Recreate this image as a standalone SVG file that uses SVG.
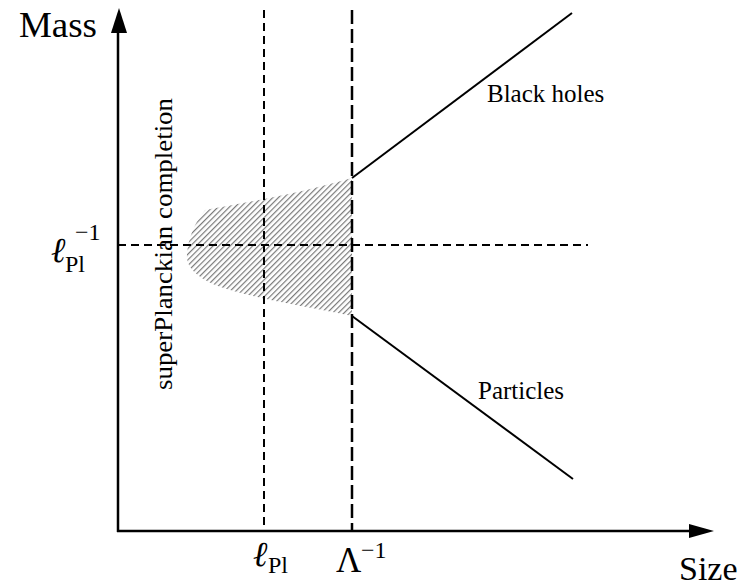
<svg xmlns="http://www.w3.org/2000/svg" width="750" height="586" viewBox="0 0 750 586">
<style>
text{font-family:"Liberation Serif","DejaVu Serif",serif;fill:#000}
.big{font-size:35px}
.lab{font-size:25px}
.sub{font-size:24px}
.it{font-style:italic}
.axis{stroke:#000;stroke-width:2.5;fill:none}
.dshort{stroke:#000;stroke-width:2;stroke-dasharray:8 5;fill:none}
.dlong{stroke:#000;stroke-width:2.5;stroke-dasharray:14 5;fill:none}
.solid{stroke:#000;stroke-width:2;fill:none}
</style>
<defs>
<pattern id="hatch" width="4" height="4" patternUnits="userSpaceOnUse" patternTransform="rotate(45)">
<line x1="0.6" y1="0" x2="0.6" y2="4" stroke="#7a7a7a" stroke-width="1.2"/>
</pattern>
</defs>
<g id="region">
<path d="M205,210 C250,202 300,193 352,178 L352,316 C300,305 250,298 215,285 C195,276 186,266 187,255 C188,238 195,222 205,210 Z" fill="url(#hatch)"/>
</g>
<g id="connectors">
<line class="dshort" x1="264" y1="10" x2="264" y2="531"/>
<line class="dlong" x1="352" y1="10" x2="352" y2="531"/>
<line class="dshort" x1="118" y1="245" x2="588" y2="245"/>
<line class="solid" x1="352" y1="178" x2="572" y2="13"/>
<line class="solid" x1="352" y1="316" x2="573" y2="479"/>
</g>
<g id="axes">
<line class="axis" x1="118" y1="532" x2="118" y2="30"/>
<line class="axis" x1="117" y1="531" x2="692" y2="531"/>
<polygon points="119,8 111,33 127,33" fill="#000"/>
<polygon points="714,531 689,524 689,538" fill="#000"/>
</g>
<g id="mass-label"><text class="big" x="19" y="37" textLength="78" lengthAdjust="spacingAndGlyphs">Mass</text></g>
<g id="size-label"><text x="679" y="580" font-size="34">Size</text></g>
<g id="black-holes"><text class="lab" x="487" y="102">Black holes</text></g>
<g id="particles"><text class="lab" x="478" y="399">Particles</text></g>
<g id="superplanckian"><text class="lab" transform="translate(172,390) rotate(-90)" textLength="292" lengthAdjust="spacingAndGlyphs">superPlanckian completion</text></g>
<g id="lpl-inv">
<text class="big it" x="51" y="262">ℓ</text>
<text class="sub" x="65" y="272">Pl</text>
<text class="sub" x="75" y="240">−1</text>
</g>
<g id="lpl">
<text class="big it" x="253" y="566">ℓ</text>
<text class="sub" x="268" y="573">Pl</text>
</g>
<g id="lambda-inv">
<text class="big" x="336" y="572">Λ</text>
<text class="sub" x="361" y="558">−1</text>
</g>
</svg>
